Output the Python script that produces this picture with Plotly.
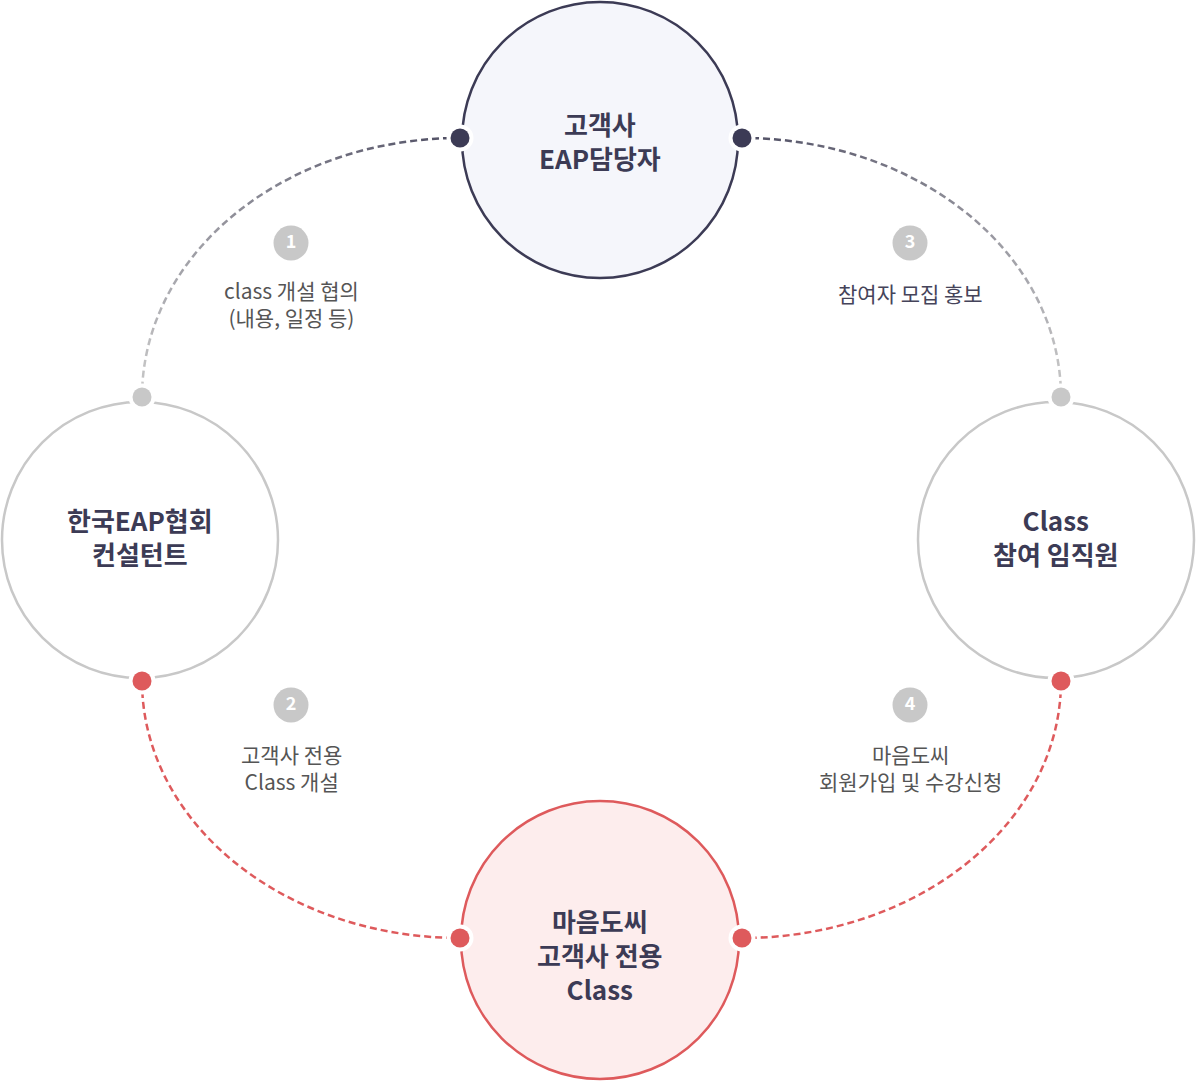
import numpy as np
import plotly.graph_objects as go

# ---- data ----
node_labels = [["고객사", "EAP담당자"], ["한국EAP협회", "컨설턴트"], ["Class", "참여 임직원"], ["마음도씨", "고객사 전용", "Class"]]
step_numbers = ["1", "2", "3", "4"]
step_texts = [["class 개설 협의", "(내용, 일정 등)"], ["고객사 전용", "Class 개설"], ["참여자 모집 홍보"], ["마음도씨", "회원가입 및 수강신청"]]

# ---- layout geometry (pixels) ----
W, H = 1196, 1081
node_cx = [600, 140, 1056, 600]
node_cy = [140, 540, 540, 940]
node_r = [138, 138, 138, 139]
node_text_mid = [140, 536, 536, 954]
node_fill = ["#f5f6fb", "#ffffff", "#ffffff", "#fdeded"]
node_line = ["#3c3b55", "#c8c8c8", "#c8c8c8", "#de5a5c"]

# arcs: (center x, center y, rx, ry, start angle, end angle, color start, color end)
arcs = [
    (460, 397, 318, 259, 90, 180, "#4f4e63", "#cacaca"),
    (742, 397, 319, 259, 90, 0, "#4f4e63", "#cacaca"),
    (460, 681, 318, 257, 180, 270, "#de5a5c", "#de5a5c"),
    (742, 681, 319, 257, 0, -90, "#de5a5c", "#de5a5c"),
]
dot_x = [460, 742, 142, 1061, 142, 1061, 460, 742]
dot_y = [138, 138, 397, 397, 681, 681, 938, 938]
dot_c = ["#3c3b55", "#3c3b55", "#c8c8c8", "#c8c8c8", "#de5a5c", "#de5a5c", "#de5a5c", "#de5a5c"]

badge_x = [291, 291, 910, 910]
badge_y = [243, 705, 243, 705]
text_mid = [303, 767, 293, 767]
text_colors = ["#555555", "#555555", "#45445a", "#555555"]

TEXT_DARK = "#3c3b55"
FONT = "Noto Sans CJK KR"

fig = go.Figure()

shapes = []
for cx, cy, r, fc, lc in zip(node_cx, node_cy, node_r, node_fill, node_line):
    shapes.append(dict(type="circle", xref="x", yref="y", x0=cx - r, x1=cx + r, y0=cy - r, y1=cy + r,
                       fillcolor=fc, line=dict(color=lc, width=2.5), layer="below"))


def hex2rgb(h):
    h = h.lstrip("#")
    return np.array([int(h[i:i + 2], 16) for i in (0, 2, 4)], dtype=float)


DASH, GAP = 7.0, 4.0
for cx, cy, rx, ry, a0, a1, c0, c1 in arcs:
    t = np.radians(np.linspace(a0, a1, 3000))
    xs = cx + rx * np.cos(t)
    ys = cy - ry * np.sin(t)
    seg = np.hypot(np.diff(xs), np.diff(ys))
    s = np.concatenate([[0], np.cumsum(seg)])
    L = s[-1]
    rgb0, rgb1 = hex2rgb(c0), hex2rgb(c1)
    nb = 24
    bins = {i: ([], []) for i in range(nb)}
    start = 10.0
    while start < L - 10:
        end = min(start + DASH, L - 10)
        ss = np.linspace(start, end, 6)
        px = np.interp(ss, s, xs)
        py = np.interp(ss, s, ys)
        frac = (start + end) / 2 / L
        b = min(int(frac * nb), nb - 1)
        bins[b][0].extend(list(px) + [None])
        bins[b][1].extend(list(py) + [None])
        start += DASH + GAP
    for b in range(nb):
        if not bins[b][0]:
            continue
        f = (b + 0.5) / nb
        col = rgb0 + (rgb1 - rgb0) * f
        fig.add_trace(go.Scatter(x=bins[b][0], y=bins[b][1], mode="lines",
                                 line=dict(color="rgb(%d,%d,%d)" % tuple(col), width=2.5),
                                 hoverinfo="skip", showlegend=False))

# dots with white halo
fig.add_trace(go.Scatter(x=dot_x, y=dot_y, mode="markers",
                         marker=dict(size=27, color="#ffffff", line=dict(width=0)),
                         hoverinfo="skip", showlegend=False))
fig.add_trace(go.Scatter(x=dot_x, y=dot_y, mode="markers",
                         marker=dict(size=19, color=dot_c, line=dict(width=0)),
                         hoverinfo="skip", showlegend=False))

# badges
fig.add_trace(go.Scatter(x=badge_x, y=badge_y, mode="markers+text",
                         marker=dict(size=35, color="#c8c8c8", line=dict(width=0)),
                         text=["<b>%s</b>" % n for n in step_numbers], textposition="middle center",
                         textfont=dict(family=FONT, size=18, color="#ffffff"),
                         hoverinfo="skip", showlegend=False))

annotations = []
for lines, cx, ty in zip(node_labels, node_cx, node_text_mid):
    annotations.append(dict(x=cx, y=ty, xref="x", yref="y",
                            text="<br>".join("<b>%s</b>" % ln for ln in lines),
                            showarrow=False, align="center",
                            font=dict(family=FONT, size=26, color=TEXT_DARK),
                            xanchor="center", yanchor="middle"))
for lines, bx, ty, tc in zip(step_texts, badge_x, text_mid, text_colors):
    annotations.append(dict(x=bx, y=ty, xref="x", yref="y", text="<br>".join(lines),
                            showarrow=False, align="center",
                            font=dict(family=FONT, size=21, color=tc),
                            xanchor="center", yanchor="middle"))

fig.update_layout(
    width=W, height=H, margin=dict(l=0, r=0, t=0, b=0),
    paper_bgcolor="#ffffff", plot_bgcolor="#ffffff",
    xaxis=dict(range=[0, W], visible=False, fixedrange=True),
    yaxis=dict(range=[H, 0], visible=False, fixedrange=True),
    shapes=shapes, annotations=annotations, showlegend=False,
)

fig.write_html("out.html", config={"displayModeBar": False},
               post_script="document.body.style.margin='0';")
